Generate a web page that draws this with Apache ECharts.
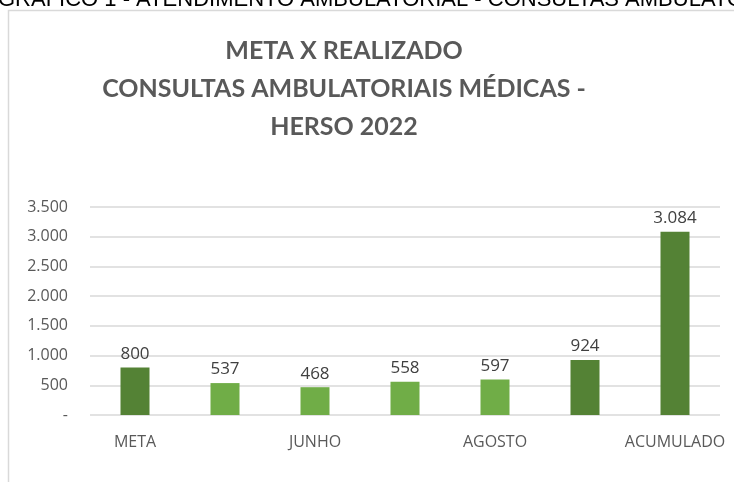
<!DOCTYPE html>
<html>
<head>
<meta charset="utf-8">
<script src="https://cdn.jsdelivr.net/npm/echarts@6/dist/echarts.min.js"></script>
<style>
  html, body { margin: 0; padding: 0; background: #fff; }
  #chart { width: 734px; height: 482px; }
</style>
</head>
<body>
<div id="chart"></div>
<script>
const categories = ['META', 'MAIO', 'JUNHO', 'JULHO', 'AGOSTO', 'SETEMBRO', 'ACUMULADO']
const values = [800, 537, 468, 558, 597, 924, 3084]
const darkBars = [true, false, false, false, false, true, true]
const yTicks = { min: 0, max: 3500, interval: 500 }

const DARK = '#548235'
const LIGHT = '#70ad47'

const fmt = (v) => {
  if (v === 0) return '-'
  return String(v).replace(/\B(?=(\d{3})+(?!\d))/g, '.')
}

const myChart = echarts.init(document.getElementById('chart'))
myChart.setOption({
  animation: false,
  graphic: [
    {
      type: 'rect',
      shape: { x: 8.5, y: 10.5, width: 800, height: 600 },
      style: { fill: 'none', stroke: '#d9d9d9', lineWidth: 1.5 },
    },
    {
      type: 'text',
      left: -2,
      top: -11,
      style: {
        text: 'GRÁFICO 1 - ATENDIMENTO AMBULATORIAL - CONSULTAS AMBULATORIAIS',
        font: '22px "Liberation Sans", Arial, sans-serif',
        fill: '#000',
      },
    },
    {
      type: 'text',
      x: 344,
      y: 32,
      style: {
        text: 'META X REALIZADO\nCONSULTAS AMBULATORIAIS MÉDICAS -\nHERSO 2022',
        font: 'bold 25px Lato, "Open Sans", sans-serif',
        fill: '#595959',
        align: 'center',
        lineHeight: 38,
      },
    },
  ],
  grid: { left: 90, right: 14, top: 207, bottom: 67 },
  xAxis: {
    type: 'category',
    data: categories,
    axisLine: { show: false },
    axisTick: { show: false },
    axisLabel: {
      interval: 1,
      margin: 19,
      color: '#595959',
      fontSize: 16,
      fontFamily: '"Open Sans", sans-serif',
    },
  },
  yAxis: {
    type: 'value',
    min: yTicks.min,
    max: yTicks.max,
    interval: yTicks.interval,
    axisLine: { show: false },
    axisTick: { show: false },
    splitLine: { lineStyle: { color: '#d9d9d9', width: 1.5 } },
    axisLabel: {
      margin: 22,
      color: '#595959',
      fontSize: 16,
      fontFamily: '"Open Sans", sans-serif',
      formatter: fmt,
    },
  },
  series: [
    {
      type: 'bar',
      barWidth: 29,
      data: values.map((v, i) => ({
        value: v,
        itemStyle: { color: darkBars[i] ? DARK : LIGHT },
      })),
      label: {
        show: true,
        position: 'top',
        distance: 5,
        color: '#404040',
        fontSize: 17,
        fontFamily: '"Open Sans", sans-serif',
        formatter: (p) => fmt(p.value),
      },
    },
  ],
})
</script>
</body>
</html>
